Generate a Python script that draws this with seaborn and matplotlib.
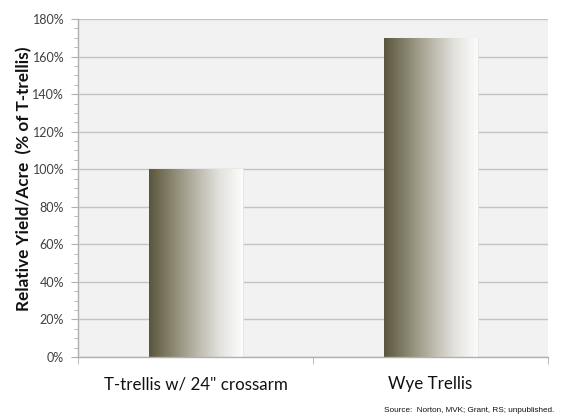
import numpy as np
import matplotlib
matplotlib.use("Agg")
import matplotlib.pyplot as plt
from matplotlib.colors import LinearSegmentedColormap
from matplotlib.ticker import MultipleLocator, FuncFormatter, FixedLocator
import seaborn as sns

categories = ["T-trellis w/ 24\" crossarm", "Wye Trellis"]
values = [100, 170]
y_label = "Relative Yield/Acre  (% of T-trellis)"
source_text = "Source:  Norton, MVK; Grant, RS; unpublished."

sns.set_style("white")
plt.rcParams['font.family'] = ['Lato', 'DejaVu Sans']

fig = plt.figure(figsize=(5.62, 4.2), dpi=100)
ax = fig.add_axes([78/562, 1 - 357/420, 470/562, 338/420])
ax.set_facecolor("#f2f2f2")

sns.barplot(x=categories, y=values, width=0.4, color="#a09c88", ax=ax, zorder=2)

ax.set_ylim(0, 180)
ax.set_xlim(-0.5, 1.5)
ax.yaxis.set_major_locator(MultipleLocator(20))
ax.yaxis.set_minor_locator(MultipleLocator(5))
ax.yaxis.set_major_formatter(FuncFormatter(lambda v, p: f"{int(round(v))}%"))
ax.grid(axis="y", which="major", color="#c4c4c4", linewidth=1.0, zorder=0)
ax.set_axisbelow(True)

cmap = LinearSegmentedColormap.from_list("grad", ["#5a563e", "#8a8670", "#b9b6a8", "#e2e1dc", "#fcfcfc"])
grad = np.linspace(0, 1, 256).reshape(1, -1)
for p in ax.patches:
    x0, y0 = p.get_x(), p.get_y()
    w, h = p.get_width(), p.get_height()
    p.set_facecolor("none")
    p.set_edgecolor("#e6e6e6")
    p.set_linewidth(0.6)
    im = ax.imshow(grad, extent=(x0, x0 + w, y0, y0 + h), aspect="auto", cmap=cmap, zorder=2, interpolation="bilinear")
    im.set_clip_path(p)
ax.set_xlim(-0.5, 1.5)
ax.set_ylim(0, 180)

for s in ["top", "right"]:
    ax.spines[s].set_visible(False)
for s in ["left", "bottom"]:
    ax.spines[s].set_color("#b0b0b0")
    ax.spines[s].set_linewidth(1.0)

ax.tick_params(axis="y", which="major", length=5, color="#b0b0b0", labelsize=9, labelcolor="#404040", pad=5, left=True)
ax.tick_params(axis="y", which="minor", length=3, color="#b0b0b0", left=True)
ax.xaxis.set_minor_locator(FixedLocator([-0.5, 0.5, 1.5]))
ax.tick_params(axis="x", which="major", length=0, labelsize=12.2, labelcolor="#111111", pad=14)
ax.tick_params(axis="x", which="minor", length=5, color="#b0b0b0", bottom=True)

ax.set_ylabel(y_label, fontsize=12.3, fontweight="bold", color="#111111")
ax.yaxis.set_label_coords((32 - 78) / 470, (357 - 179) / 338)
ax.set_xlabel("")

fig.text(554/562, 1 - 410/420, source_text, ha="right", va="center", fontsize=5.9,
         family=["Liberation Sans", "DejaVu Sans"], color="#111111")

fig.savefig("out.png", dpi=100, facecolor="white")
